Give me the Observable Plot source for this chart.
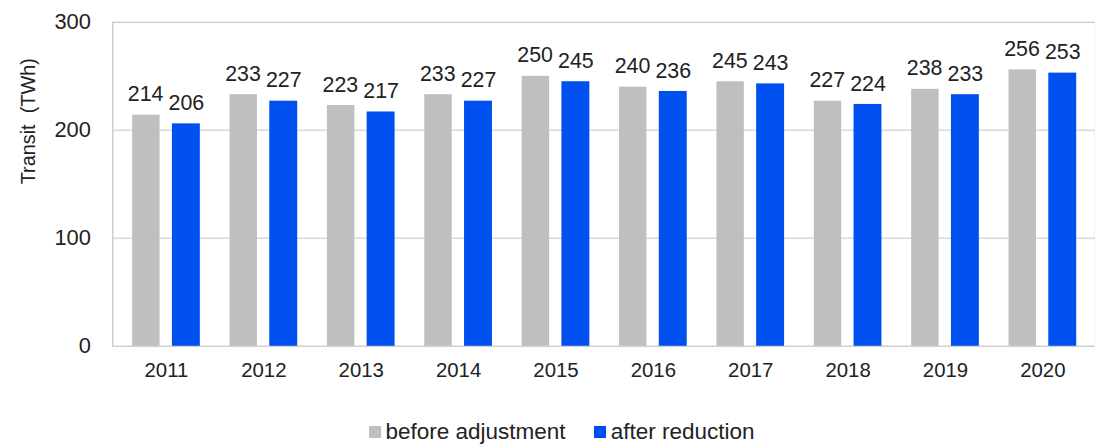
<!DOCTYPE html>
<html><head><meta charset="utf-8">
<script src="https://cdn.jsdelivr.net/npm/d3@7"></script>
<script src="https://cdn.jsdelivr.net/npm/@observablehq/plot@0.6"></script>
<style>
body{margin:0;overflow:hidden;background:#fff;font-family:"Liberation Sans",Arial,sans-serif;}
#chart svg{white-space:pre;display:block;}
#legend{display:flex;justify-content:center;align-items:center;font-size:22.5px;color:#222;height:24px;margin-top:23px;padding-left:28px;}
.item{display:flex;align-items:center;margin:0 14px;}
.sw{width:12px;height:12px;margin-right:5px;}
</style>
</head><body><div id="chart"></div><div id="legend"></div>
<script>
const years = ["2011","2012","2013","2014","2015","2016","2017","2018","2019","2020"];
const beforeAdjustment = [214,233,223,233,250,240,245,227,238,256];
const afterReduction = [206,227,217,227,245,236,243,224,233,253];
const yTicks = [0,100,200,300];
const gridValues = [100,200];
const seriesNames = ["before adjustment","after reduction"];
const seriesColors = ["#bfbfbf","#0050ef"];

const before = years.map((y,i)=>({year:y, value:beforeAdjustment[i]}));
const after = years.map((y,i)=>({year:y, value:afterReduction[i]}));

const plot = Plot.plot({
  width: 1102, height: 400,
  marginLeft: 113, marginRight: 0, marginTop: 22, marginBottom: 52,
  style: {fontFamily: '"Liberation Sans", Arial, sans-serif', fontSize: "20px", color: "#222", background: "#fff", overflow: "visible"},
  x: {type: "band", domain: years, padding: 0, label: null},
  y: {domain: [0,300], label: null},
  marks: [
    Plot.ruleY(gridValues, {stroke: "#d9d9d9", strokeWidth: 1.5}),
    Plot.frame({stroke: "#cfcfcf", strokeWidth: 1.5}),
    Plot.barY(before, {x: "year", y: "value", fill: seriesColors[0], insetLeft: 15, insetRight: 55.4}),
    Plot.barY(after, {x: "year", y: "value", fill: seriesColors[1], insetLeft: 55, insetRight: 14.9}),
    Plot.text(before, {x: "year", y: "value", text: d => String(d.value), dx: -21, dy: -14, lineAnchor: "bottom", fontSize: 21.5, fill: "#222"}),
    Plot.text(after, {x: "year", y: "value", text: d => String(d.value), dx: 20, dy: -14, lineAnchor: "bottom", fontSize: 21.5, fill: "#222"}),
    Plot.axisX({tickSize: 0, tickPadding: 16, fontSize: 20.5, label: null}),
    Plot.axisY({ticks: yTicks, tickSize: 0, tickPadding: 22, fontSize: 22, label: null, tickFormat: d => String(d)}),
    Plot.text(["Transit  (TWh)"], {frameAnchor: "left", rotate: -90, dx: -85, fontSize: 20, fill: "#222"})
  ]
});
document.getElementById("chart").appendChild(plot);

const legend = document.getElementById("legend");
seriesNames.forEach((name,i)=>{
  const it = document.createElement("div"); it.className = "item";
  const sw = document.createElement("div"); sw.className = "sw"; sw.style.background = seriesColors[i];
  const tx = document.createElement("span"); tx.textContent = name;
  it.appendChild(sw); it.appendChild(tx); legend.appendChild(it);
});
</script>
</body></html>
